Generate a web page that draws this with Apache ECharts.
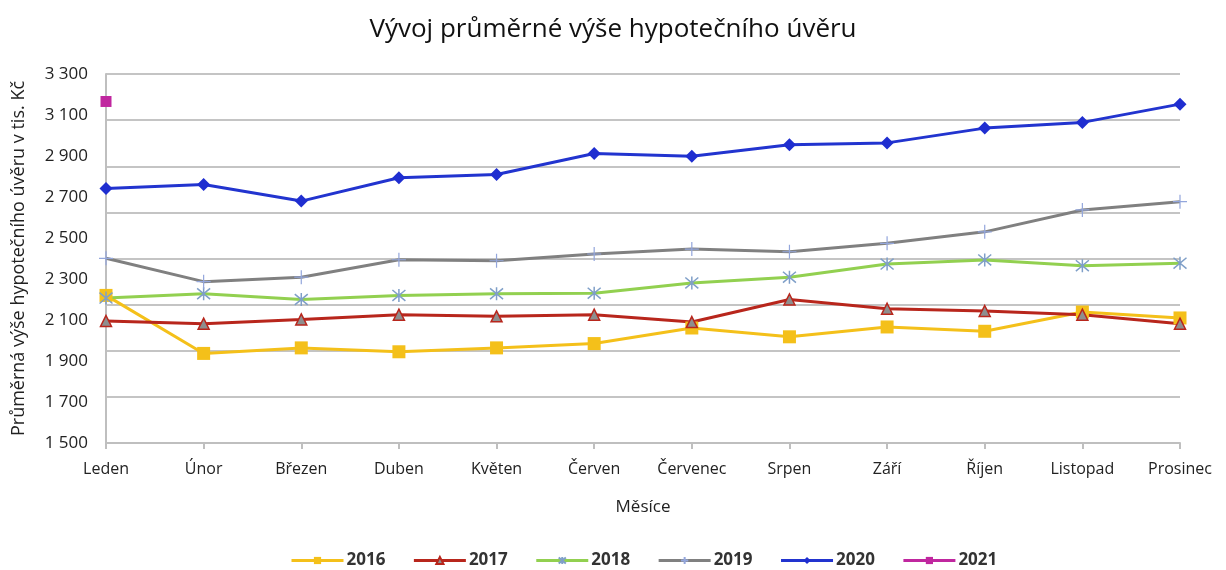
<!DOCTYPE html>
<html>
<head>
<meta charset="utf-8">
<script src="https://cdn.jsdelivr.net/npm/echarts@6/dist/echarts.min.js"></script>
<style>
  html, body { margin: 0; padding: 0; background: #fff; }
  #chart { width: 1226px; height: 570px; }
</style>
</head>
<body>
<div id="chart"></div>
<script>
// data (tis. Kč)
const months = ['Leden', 'Únor', 'Březen', 'Duben', 'Květen', 'Červen', 'Červenec', 'Srpen', 'Září', 'Říjen', 'Listopad', 'Prosinec']
const y2016 = [2220, 1937, 1964, 1945, 1964, 1985, 2061, 2018, 2066, 2045, 2139, 2110]
const y2017 = [2095, 2082, 2103, 2126, 2118, 2126, 2090, 2200, 2155, 2144, 2126, 2082]
const y2018 = [2207, 2228, 2200, 2220, 2228, 2231, 2281, 2309, 2373, 2393, 2365, 2377]
const y2019 = [2401, 2287, 2309, 2394, 2389, 2422, 2446, 2433, 2474, 2530, 2637, 2677]
const y2020 = [2742, 2761, 2680, 2794, 2810, 2912, 2899, 2955, 2964, 3036, 3064, 3153]
const y2021 = [3166]

const font = '"Open Sans", "Noto Sans", sans-serif'

const asterisk = 'path://M0,0L10,10M10,0L0,10M5,-1L5,11'
const plus = 'path://M5,0L5,10M0,5L10,5'

function lineSeries(name, data, color, extra) {
  return Object.assign({
    name,
    type: 'line',
    data,
    yAxisIndex: 0,
    lineStyle: { color, width: 3 },
    symbolSize: 12,
    z: 3,
  }, extra)
}

const chart = echarts.init(document.getElementById('chart'))

chart.setOption({
  animation: false,
  title: {
    text: 'Vývoj průměrné výše hypotečního úvěru',
    left: 'center',
    top: 12,
    textStyle: { fontFamily: font, fontSize: 26, fontWeight: 'normal', color: '#111' },
  },
  legend: {
    top: 547,
    left: 285,
    itemWidth: 52,
    itemHeight: 9,
    itemGap: 27,
    lineStyle: { width: 3 },
    textStyle: { fontFamily: font, fontSize: 17, fontWeight: 'bold', color: '#333', padding: [0, 0, 0, -2] },
  },
  grid: { left: 106, right: 46, top: 74, bottom: 127, outerBoundsMode: 'none' },
  xAxis: {
    type: 'category',
    data: months,
    boundaryGap: false,
    name: 'Měsíce',
    nameLocation: 'middle',
    nameGap: 56,
    nameTextStyle: { fontFamily: font, fontSize: 17, color: '#222' },
    axisLine: { lineStyle: { color: '#bfbfbf', width: 2 } },
    axisTick: { show: true, length: 6, lineStyle: { color: '#bfbfbf', width: 2 } },
    axisLabel: { fontFamily: font, fontSize: 16, color: '#222', margin: 18 },
    splitLine: { show: false },
  },
  yAxis: [
    {
      type: 'value',
      min: 1500,
      max: 3300,
      interval: 200,
      name: 'Průměrná výše hypotečního úvěru v tis. Kč',
      nameLocation: 'middle',
      nameGap: 78,
      nameTextStyle: { fontFamily: font, fontSize: 18, color: '#222' },
      axisLine: { show: true, lineStyle: { color: '#bfbfbf', width: 2 } },
      axisTick: { show: false },
      axisLabel: {
        fontFamily: font, fontSize: 17, color: '#222', margin: 18,
        formatter: (v) => String(v).replace(/\B(?=(\d{3})+(?!\d))/g, ' '),
      },
      splitLine: { show: false },
    },
    {
      // gridlines in the picture are not aligned with the labels
      type: 'value',
      min: 0,
      max: 8,
      interval: 1,
      position: 'left',
      axisLine: { show: false },
      axisTick: { show: false },
      axisLabel: { show: false },
      splitLine: { show: true, lineStyle: { color: '#c4c4c4', width: 2 } },
    },
  ],
  series: [
    lineSeries('2016', y2016, '#f4c01a', {
      symbol: 'rect', symbolSize: 13, itemStyle: { color: '#f4c01a' },
    }),
    lineSeries('2017', y2017, '#b8261c', {
      symbol: 'triangle', symbolSize: 11,
      itemStyle: { color: '#8e8e8e', borderColor: '#b8261c', borderWidth: 1.5 },
    }),
    lineSeries('2018', y2018, '#92d050', {
      symbol: asterisk, symbolSize: 13,
      itemStyle: { color: '#7f9fc8', borderColor: '#7f9fc8', borderWidth: 1.5 },
    }),
    lineSeries('2019', y2019, '#808080', {
      symbol: plus, symbolSize: 14,
      itemStyle: { color: '#93a6dc', borderColor: '#93a6dc', borderWidth: 1.2 },
    }),
    lineSeries('2020', y2020, '#2234cf', {
      symbol: 'diamond', symbolSize: 13, itemStyle: { color: '#1f2ed0' },
    }),
    lineSeries('2021', y2021, '#c0279f', {
      symbol: 'rect', symbolSize: 11, itemStyle: { color: '#c0279f' },
    }),
  ],
})
</script>
</body>
</html>
